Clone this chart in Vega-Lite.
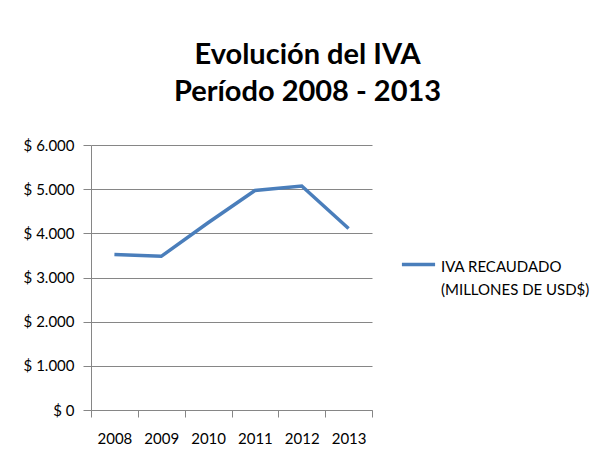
{
  "$schema": "https://vega.github.io/schema/vega-lite/v6.json",
  "width": 281,
  "height": 265,
  "autosize": {"type": "none"},
  "padding": {"left": 91, "top": 145, "right": 231, "bottom": 45},
  "background": "white",
  "title": {
    "text": ["Evolución del IVA", "Período 2008 - 2013"],
    "font": "Lato",
    "fontSize": 29,
    "fontWeight": "bold",
    "color": "#000000",
    "anchor": "middle",
    "dx": 76,
    "offset": 31,
    "lineHeight": 37
  },
  "data": {
    "values": [
      {"year": "2008", "value": 3520, "serie": "IVA RECAUDADO"},
      {"year": "2009", "value": 3480, "serie": "IVA RECAUDADO"},
      {"year": "2010", "value": 4240, "serie": "IVA RECAUDADO"},
      {"year": "2011", "value": 4970, "serie": "IVA RECAUDADO"},
      {"year": "2012", "value": 5070, "serie": "IVA RECAUDADO"},
      {"year": "2013", "value": 4110, "serie": "IVA RECAUDADO"}
    ]
  },
  "mark": {"type": "line", "strokeWidth": 3.5, "strokeCap": "butt"},
  "encoding": {
    "x": {
      "field": "year",
      "type": "ordinal",
      "scale": {"type": "band", "paddingInner": 0, "paddingOuter": 0},
      "axis": {
        "title": null,
        "labelAngle": 0,
        "labelFont": "Lato",
        "labelFontSize": 15,
        "labelColor": "#000000",
        "labelPadding": 19,
        "tickBand": "extent",
        "tickSize": 7,
        "tickColor": "#868686",
        "domainColor": "#868686",
        "grid": false
      }
    },
    "y": {
      "field": "value",
      "type": "quantitative",
      "scale": {"domain": [0, 6000], "nice": false},
      "axis": {
        "title": null,
        "values": [0, 1000, 2000, 3000, 4000, 5000, 6000],
        "labelExpr": "'$ ' + replace(format(datum.value, ',d'), ',', '.')",
        "labelFont": "Lato",
        "labelFontSize": 15,
        "labelColor": "#000000",
        "labelPadding": 9,
        "labelOffset": 5,
        "tickSize": 8,
        "tickColor": "#868686",
        "domainColor": "#868686",
        "grid": true,
        "gridColor": "#868686",
        "gridOpacity": 1
      }
    },
    "color": {
      "field": "serie",
      "type": "nominal",
      "scale": {"range": ["#4A7EBB"]},
      "legend": {
        "title": null,
        "orient": "none",
        "legendX": 309,
        "legendY": 101,
        "symbolType": "stroke",
        "symbolStrokeWidth": 3.5,
        "symbolSize": 1100,
        "labelExpr": "['IVA RECAUDADO', '(MILLONES DE USD$)']",
        "labelFont": "Lato",
        "labelFontSize": 15,
        "labelColor": "#000000",
        "labelBaseline": "top",
        "labelOffset": 4,
        "labelLimit": 300
      }
    }
  },
  "config": {
    "view": {"stroke": null},
    "style": {"guide-label": {"lineHeight": 23.5, "dy": -5}}
  }
}
